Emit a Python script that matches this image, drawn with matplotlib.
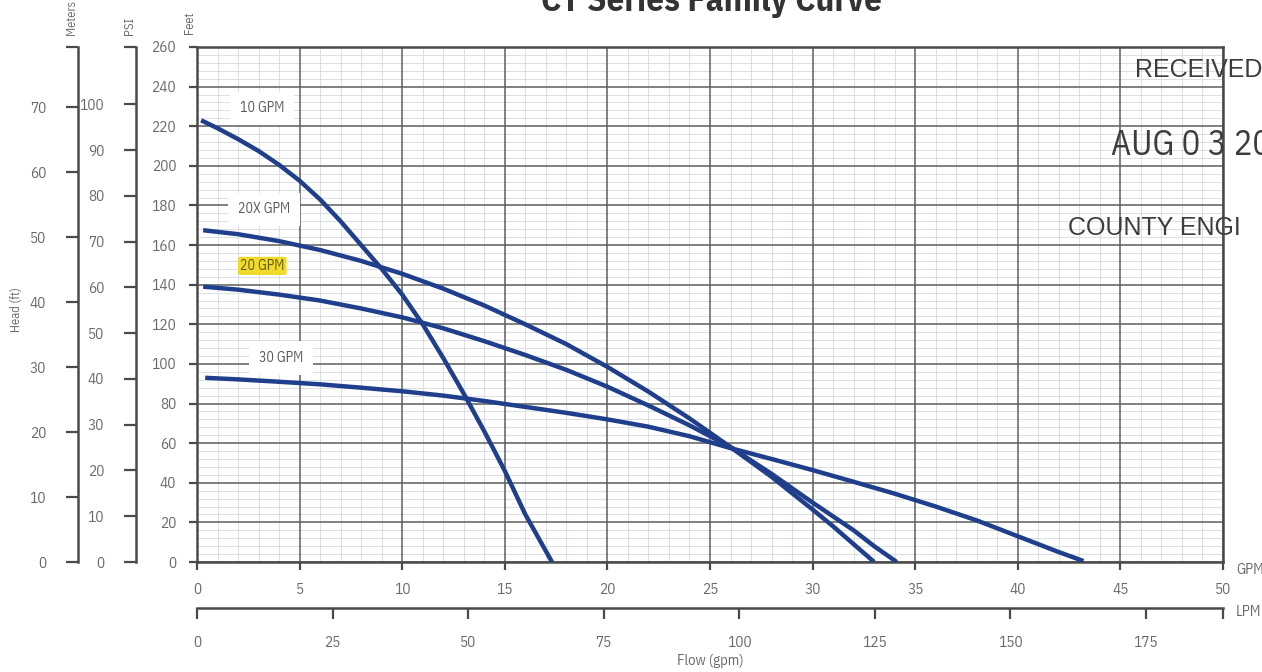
import numpy as np
import matplotlib.pyplot as plt
from matplotlib.ticker import FixedLocator

# pump curves (flow in GPM, head in feet)
flow_10 = [0.2, 1, 2, 3, 4, 5, 6, 7, 8, 9, 10, 11, 12, 13, 14, 15, 16, 17.3]
head_10 = [223, 219, 213.5, 207.5, 200.5, 192.5, 183, 172, 160, 148, 135, 120, 103, 85, 66, 46, 24, 0]

flow_20x = [0.3, 2, 4, 6, 8, 10, 12, 14, 16, 18, 20, 22, 24, 26, 28, 30, 31, 32, 33]
head_20x = [167.5, 165.5, 162, 157.5, 152, 145.5, 138, 129.5, 120, 110, 98.5, 86, 72.5, 58, 43, 26.5, 18, 9, 0]

flow_20 = [0.3, 2, 4, 6, 8, 10, 12, 14, 16, 18, 20, 22, 24, 26, 28, 30, 31, 32, 33, 34.1]
head_20 = [139, 137.5, 135, 132, 128, 123.5, 118, 111.5, 104.5, 97, 88.5, 79, 69, 58, 44.5, 30, 23, 16, 8, 0]

flow_30 = [0.4, 2, 4, 6, 8, 10, 12, 14, 16, 18, 20, 22, 24, 26, 28, 30, 32, 34, 36, 38, 40, 42, 43.2]
head_30 = [93, 92.2, 91, 89.7, 88, 86.2, 84, 81.3, 78.3, 75.3, 72, 68.3, 63.5, 57.5, 52, 46.4, 40.5, 34.5, 28, 21, 13, 5, 0.5]

series = [(flow_10, head_10), (flow_20x, head_20x), (flow_20, head_20), (flow_30, head_30)]
labels = ["10 GPM", "20X GPM", "20 GPM", "30 GPM"]
label_pos = [(2.1, 229), (2.0, 178), (2.1, 149.5), (3.0, 103)]

feet_ticks = np.arange(0, 261, 20)
gpm_ticks = np.arange(0, 51, 5)
meter_ticks = np.arange(0, 71, 10)
psi_ticks = np.arange(0, 101, 10)
lpm_ticks = np.arange(0, 176, 25)
minor_x = [v for v in range(51) if v % 5]
minor_y = [v for v in range(0, 261, 4) if v % 20]

narrow = ["IBM Plex Sans Condensed", "DejaVu Sans"]
plt.rcParams["font.family"] = narrow

W, H = 1262, 672
fig = plt.figure(figsize=(W / 100, H / 100), dpi=100)
ax = fig.add_axes([197 / W, 1 - 562 / H, 1026 / W, 515 / H])

dark = "#4a4a4a"
lab = "#6a6a6a"

ax.set_xlim(0, 50)
ax.set_ylim(0, 260)
ax.xaxis.set_major_locator(FixedLocator(gpm_ticks))
ax.yaxis.set_major_locator(FixedLocator(feet_ticks))
# light minor grid under the major one
ax.vlines(minor_x, 0, 260, color="#d6dadf", lw=0.6, zorder=0.1)
ax.hlines(minor_y, 0, 50, color="#d6dadf", lw=0.6, zorder=0.1)
ax.grid(which="major", color="#5e5e5e", lw=1.1)
ax.set_axisbelow(True)
for s in ax.spines.values():
    s.set_color(dark)
    s.set_linewidth(1.8)
ax.tick_params(which="major", direction="out", length=6, width=1.6, color=dark,
               labelsize=11, labelcolor=lab, pad=9)

for (fx, hy) in series:
    ax.plot(fx, hy, color="#1f3e8c", lw=3.2, solid_capstyle="butt", zorder=3)

for t, (lx, ly) in zip(labels, label_pos):
    if t == "20 GPM":
        ax.text(lx, ly, t, fontsize=10, color="#5e5a10", ha="left", va="center", zorder=4,
                bbox=dict(boxstyle="round,pad=0.15", fc="#f0da2c", ec="none"))
    else:
        ax.text(lx, ly, t, fontsize=10, color="#5a5a5a", ha="left", va="center", zorder=4,
                bbox=dict(boxstyle="square,pad=0.7", fc="white", ec="none"))

# meters scale
sec_m = ax.secondary_yaxis(-0.116, functions=(lambda f: f / 3.281, lambda m: m * 3.281))
sec_m.yaxis.set_major_locator(FixedLocator(meter_ticks))
sec_m.yaxis.set_minor_locator(FixedLocator([260 / 3.281]))
# psi scale
sec_p = ax.secondary_yaxis(-0.0595, functions=(lambda f: f / 2.31, lambda p: p * 2.31))
sec_p.yaxis.set_major_locator(FixedLocator(psi_ticks))
sec_p.yaxis.set_minor_locator(FixedLocator([260 / 2.31]))
for sec in (sec_m, sec_p):
    sec.spines["left"].set_color(dark)
    sec.spines["left"].set_linewidth(1.8)
    sec.tick_params(which="both", direction="out", length=9, width=1.6, color=dark,
                    labelsize=11, labelcolor=lab, pad=14)

# LPM scale
sec_l = ax.secondary_xaxis(-0.0893, functions=(lambda g: g * 3.785, lambda l: l / 3.785))
sec_l.xaxis.set_major_locator(FixedLocator(lpm_ticks))
sec_l.xaxis.set_minor_locator(FixedLocator([50 * 3.785]))
sec_l.spines["bottom"].set_color(dark)
sec_l.spines["bottom"].set_linewidth(1.8)
sec_l.tick_params(which="both", direction="out", length=8, width=1.6, color=dark,
                  labelsize=11, labelcolor=lab, pad=12)


def ftext(px, py, s, **kw):
    fig.text(px / W, 1 - py / H, s, **kw)


ftext(72, 17, "Meters", rotation=90, ha="center", va="center", fontsize=9, color=lab)
ftext(130, 26, "PSI", rotation=90, ha="center", va="center", fontsize=9, color=lab)
ftext(190, 23, "Feet", rotation=90, ha="center", va="center", fontsize=9, color=lab)
ftext(16, 310, "Head (ft)", rotation=90, ha="center", va="center", fontsize=9, color=lab)
ftext(1236, 570, "GPM", ha="left", va="center", fontsize=10.5, color=lab)
ftext(1236, 612, "LPM", ha="left", va="center", fontsize=10.5, color=lab)
ftext(710, 661, "Flow (gpm)", ha="center", va="center", fontsize=10.5, color=lab)
ftext(711, 1, "CT Series Family Curve", ha="center", va="center", fontsize=25,
      fontweight="bold", color="#333333")

# received stamp
stamp = "#3d3d3d"
ftext(1135, 70, "RECEIVED", ha="left", va="center", fontsize=18, color=stamp,
      family=["Liberation Sans", "DejaVu Sans"])
ftext(1111, 145, "AUG 0 3 201", ha="left", va="center", fontsize=25, color=stamp)
ftext(1068, 228, "COUNTY ENGI", ha="left", va="center", fontsize=18, color=stamp,
      family=["Liberation Sans", "DejaVu Sans"])

fig.savefig("out.png", dpi=100)
